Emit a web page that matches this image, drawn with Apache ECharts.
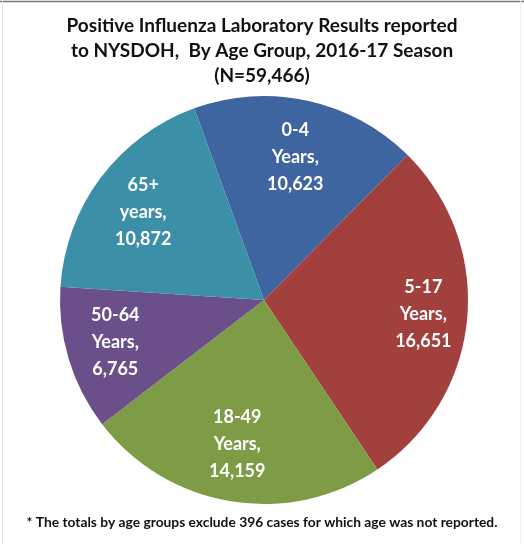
<!DOCTYPE html>
<html>
<head>
<meta charset="utf-8">
<script src="https://cdn.jsdelivr.net/npm/echarts@6/dist/echarts.min.js"></script>
<style>
html,body{margin:0;padding:0;background:#fff;}
#chart{width:524px;height:544px;}
</style>
</head>
<body>
<div id="chart"></div>
<script>
const titleLines = ['Positive Influenza Laboratory Results reported', 'to NYSDOH,  By Age Group, 2016-17 Season', '(N=59,466)'];
const footnote = '* The totals by age groups exclude 396 cases for which age was not reported.';
const categories = ['0-4', '5-17', '18-49', '50-64', '65+'];
const unitWords = ['Years,', 'Years,', 'Years,', 'Years,', 'years,'];
const values = [10623, 16651, 14159, 6765, 10872];
const colors = ['#3F65A1', '#A1403D', '#7E9C46', '#6B4F8B', '#3B8FA7'];
// per-slice label nudges (style only): [dx]
const labelShift = [0, 14, -3, -9, -4];

const fmt = v => v.toLocaleString('en-US');
const chart = echarts.init(document.getElementById('chart'), null, {renderer: 'canvas'});
const FONT = 'Lato, "Open Sans", sans-serif';

const baseData = categories.map((c, i) => ({
  name: c, value: values[i], itemStyle: {color: colors[i]}
}));
const labelData = categories.map((c, i) => {
  const s = labelShift[i];
  const pad = s >= 0 ? [0, 0, 0, 2 * s] : [0, -2 * s, 0, 0];
  return {
    name: c, value: values[i],
    label: {padding: pad, formatter: c + '\n' + unitWords[i] + '\n' + fmt(values[i])}
  };
});

const option = {
  animation: false,
  backgroundColor: '#ffffff',
  title: {
    text: titleLines.join('\n'),
    left: 'center', top: 8,
    textStyle: {fontFamily: FONT, fontSize: 19, fontWeight: 'bold', color: '#111', lineHeight: 25}
  },
  graphic: [
    {type: 'line', shape: {x1: 0, y1: 1.5, x2: 524, y2: 1.5}, style: {stroke: '#777', lineWidth: 1.5}, silent: true},
    {type: 'line', shape: {x1: 2.5, y1: 0, x2: 2.5, y2: 544}, style: {stroke: '#e2e2e2', lineWidth: 1}, silent: true},
    {type: 'line', shape: {x1: 520.5, y1: 0, x2: 520.5, y2: 544}, style: {stroke: '#eeeeee', lineWidth: 1}, silent: true},
    {type: 'text', left: 'center', top: 516,
     style: {text: footnote, fontFamily: FONT, fontSize: 13.8, fontWeight: 'bold', fill: '#111'}}
  ],
  series: [
    {
      type: 'pie',
      center: [264, 300],
      radius: [0, 204],
      startAngle: 110,
      clockwise: true,
      label: {show: false},
      labelLine: {show: false},
      itemStyle: {borderWidth: 0},
      emphasis: {disabled: true},
      silent: true,
      data: baseData
    },
    {
      type: 'pie',
      center: [264, 300],
      radius: [82, 204],
      startAngle: 110,
      clockwise: true,
      itemStyle: {color: 'rgba(0,0,0,0)', borderWidth: 0},
      labelLine: {show: false},
      emphasis: {disabled: true},
      silent: true,
      label: {
        show: true, position: 'inside',
        fontFamily: FONT, fontSize: 18, fontWeight: 'bold', color: '#ffffff',
        lineHeight: 27, align: 'center'
      },
      data: labelData
    }
  ]
};
chart.setOption(option);
</script>
</body>
</html>
